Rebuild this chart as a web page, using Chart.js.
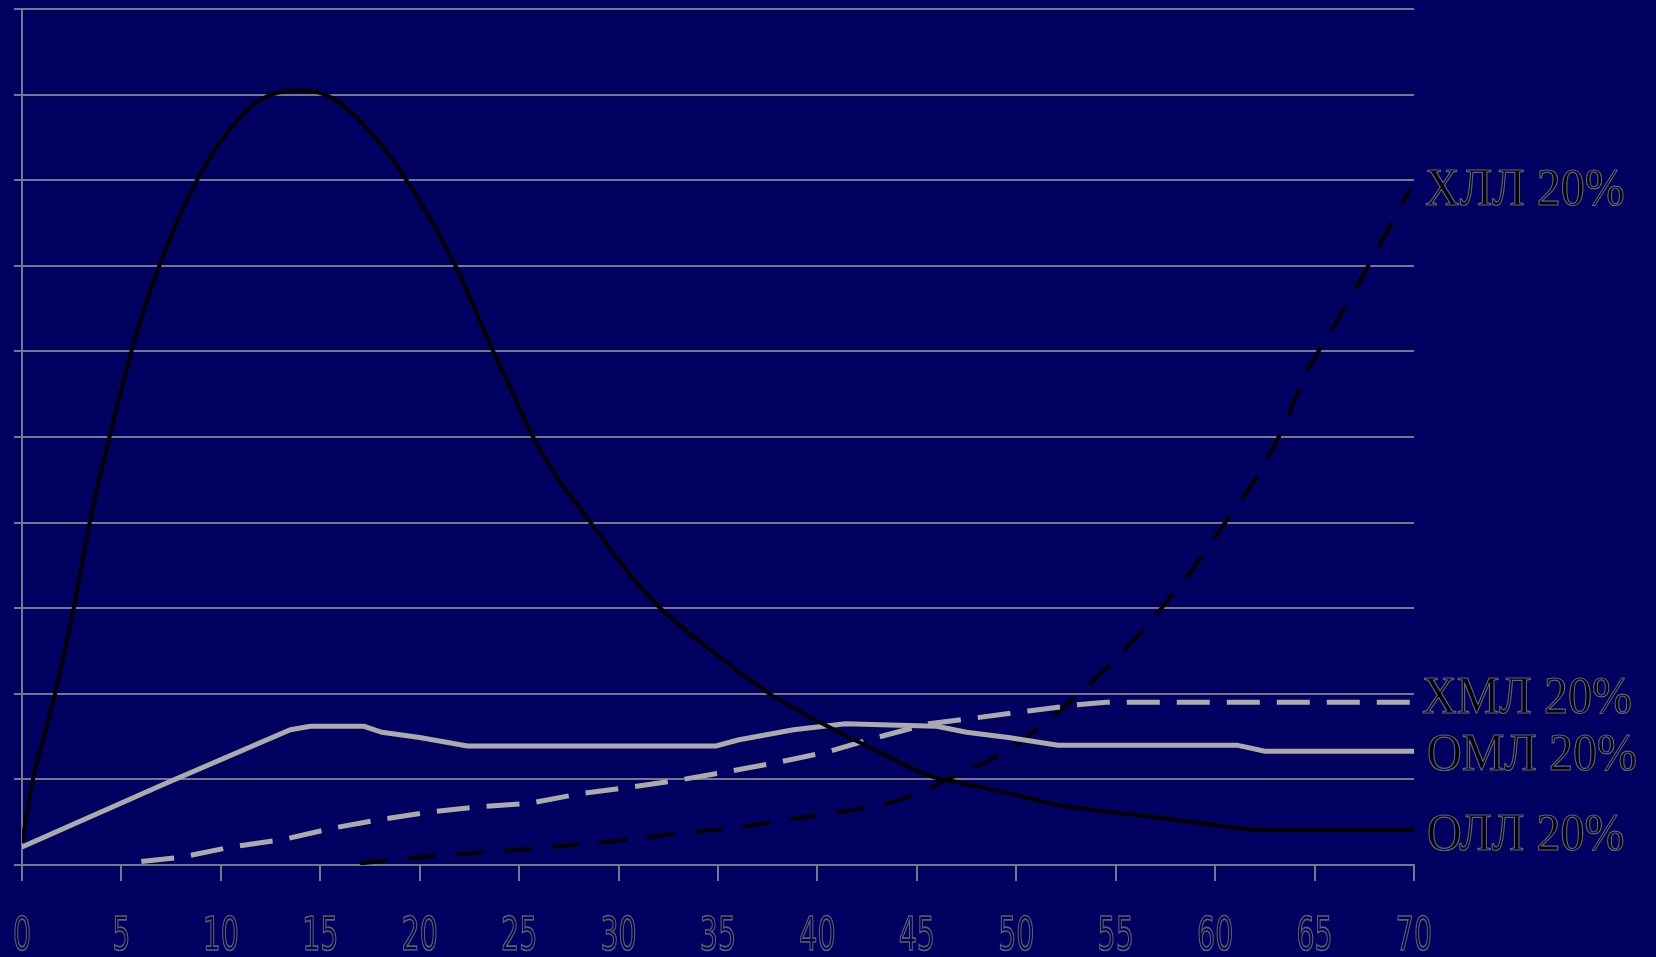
<!DOCTYPE html>
<html>
<head>
<meta charset="utf-8">
<script src="https://cdn.jsdelivr.net/npm/chart.js@4/dist/chart.umd.min.js"></script>
<style>
  html, body { margin: 0; padding: 0; background: #000060; }
  canvas { display: block; }
</style>
</head>
<body>
<canvas id="c" width="1656" height="957"></canvas>
<script>
// ---- data ----
const xTickLabels = ['0','5','10','15','20','25','30','35','40','45','50','55','60','65','70'];
const seriesNames = ['ХЛЛ 20%', 'ХМЛ 20%', 'ОМЛ 20%', 'ОЛЛ 20%'];

const ollX = [0, 0.55, 1.1, 1.66, 2.6, 3.4, 4.4, 5.5, 6.9, 8.8, 10.3, 12, 14, 15.6, 17.3, 19.2, 21.8, 23.7, 24.7, 25.7, 27.0, 28.6, 30.2, 32.1, 34.7, 37.6, 40.1, 43.2, 45.8, 47, 49.6, 52.1, 54.7, 57.3, 59.8, 62.4, 70];
const ollY = [2.6, 10, 15, 20, 30, 40, 50, 60, 70, 80, 85.5, 89.4, 90.5, 89.6, 86.2, 80.5, 70, 60, 55, 50, 45, 40, 35, 30, 25, 20, 16.7, 13.1, 10.3, 9.7, 8.4, 7.0, 6.2, 5.5, 4.7, 4.1, 4.1];

const omlX = [0, 7.3, 13.5, 14.5, 17.2, 18.1, 20, 22.4, 34.9, 36, 38.8, 41.4, 46, 47.5, 49.6, 52.1, 61.1, 62.5, 70];
const omlY = [2.1, 9.6, 15.8, 16.2, 16.2, 15.5, 14.9, 13.9, 13.9, 14.6, 15.8, 16.5, 16.2, 15.5, 14.9, 14.0, 14.0, 13.3, 13.3];

const hmlX = [6, 8, 10.5, 13.2, 15.6, 18, 20.5, 23, 25.5, 28, 30.6, 33, 35.7, 38, 40.5, 43, 45.6, 48, 50.6, 53, 54.5, 70];
const hmlY = [0.4, 0.9, 2.1, 3.0, 4.3, 5.3, 6.2, 6.8, 7.2, 8.3, 9.1, 9.9, 11, 12, 13.2, 14.9, 16.5, 17.2, 18, 18.7, 19.0, 19.0];

const hllX = [17, 20.5, 23, 25.5, 28, 30.6, 33, 35.7, 38, 40.5, 43, 45, 46.5, 48, 50, 51, 52.2, 53.6, 55, 57.3, 59, 60.5, 62, 63.2, 64.7, 66, 67.7, 69.8];
const hllY = [0.2, 1.0, 1.4, 1.9, 2.4, 3.0, 3.7, 4.3, 5.1, 6.0, 6.9, 8.3, 10, 11.5, 14, 15.8, 18, 21, 24, 30, 35, 40, 45, 50, 58, 63, 70, 79];

function pts(xs, ys) { return xs.map((x, i) => ({ x: x, y: ys[i] })); }

const BG = '#000060';
const GRID = '#77778c';

const bgPlugin = {
  id: 'bg',
  beforeDraw(chart) {
    const c = chart.ctx;
    c.save();
    c.fillStyle = BG;
    c.fillRect(0, 0, chart.width, chart.height);
    c.restore();
  }
};

// x tick labels drawn as outlined, narrow text under each tick
const xLabelPlugin = {
  id: 'xLabels',
  afterDraw(chart) {
    const c = chart.ctx;
    const xs = chart.scales.x;
    c.save();
    c.font = '46px "DejaVu Sans", sans-serif';
    c.textAlign = 'center';
    c.textBaseline = 'alphabetic';
    c.lineJoin = 'miter';
    xTickLabels.forEach(t => {
      const px = xs.getPixelForValue(Number(t));
      c.save();
      c.translate(px, 950);
      c.scale(0.62, 1);
      c.fillStyle = '#000048';
      c.fillText(t, 0, 0);
      c.strokeStyle = '#5c5c74';
      c.lineWidth = 1.7;
      c.strokeText(t, 0, 0);
      c.restore();
    });
    c.restore();
  }
};

// label anchor: [left x, baseline y] in pixels, in the order of seriesNames
const labelPos = [[1425, 205], [1422, 713], [1427, 770], [1427, 850]];

const labelPlugin = {
  id: 'seriesLabels',
  afterDraw(chart) {
    const c = chart.ctx;
    c.save();
    c.font = '48px "Liberation Serif", "DejaVu Serif", serif';
    c.textBaseline = 'alphabetic';
    c.lineJoin = 'round';
    seriesNames.forEach((t, i) => {
      const p = labelPos[i];
      c.save();
      c.translate(p[0], p[1]);
      c.scale(1, 1.12);
      c.fillStyle = '#000000';
      c.fillText(t, 0, 0);
      c.strokeStyle = '#62627a';
      c.lineWidth = 1.1;
      c.strokeText(t, 0, 0);
      c.restore();
    });
    c.restore();
  }
};

new Chart(document.getElementById('c'), {
  type: 'line',
  data: {
    datasets: [
      { label: seriesNames[3], data: pts(ollX, ollY), borderColor: '#000000', borderWidth: 4, pointRadius: 0, cubicInterpolationMode: 'monotone', fill: false },
      { label: seriesNames[2], data: pts(omlX, omlY), borderColor: '#ababab', borderWidth: 5, pointRadius: 0, tension: 0, fill: false },
      { label: seriesNames[1], data: pts(hmlX, hmlY), borderColor: '#ababab', borderWidth: 5, borderDash: [33, 17], pointRadius: 0, tension: 0, fill: false },
      { label: seriesNames[0], data: pts(hllX, hllY), borderColor: '#000000', borderWidth: 4, borderDash: [28, 20], pointRadius: 0, cubicInterpolationMode: 'monotone', fill: false }
    ]
  },
  options: {
    responsive: false,
    animation: false,
    layout: { padding: { top: 9, right: 242, left: 0, bottom: 0 } },
    plugins: { legend: { display: false }, tooltip: { enabled: false } },
    scales: {
      x: {
        type: 'linear', min: 0, max: 70,
        afterBuildTicks(s) { s.ticks = xTickLabels.map(v => ({ value: Number(v) })); },
        ticks: { display: false },
        grid: { drawOnChartArea: false, drawTicks: true, tickLength: 16, color: GRID, lineWidth: 2 },
        border: { display: true, color: GRID, width: 2 },
        afterFit(s) { s.height = 92; s.paddingLeft = 0; s.paddingRight = 0; }
      },
      y: {
        min: 0, max: 100,
        ticks: { stepSize: 10, display: false },
        grid: { color: GRID, lineWidth: 2, drawTicks: true, tickLength: 8 },
        border: { display: true, color: GRID, width: 2 },
        afterFit(s) { s.width = 22; s.paddingTop = 0; s.paddingBottom = 0; }
      }
    }
  },
  plugins: [bgPlugin, xLabelPlugin, labelPlugin]
});
</script>
</body>
</html>
